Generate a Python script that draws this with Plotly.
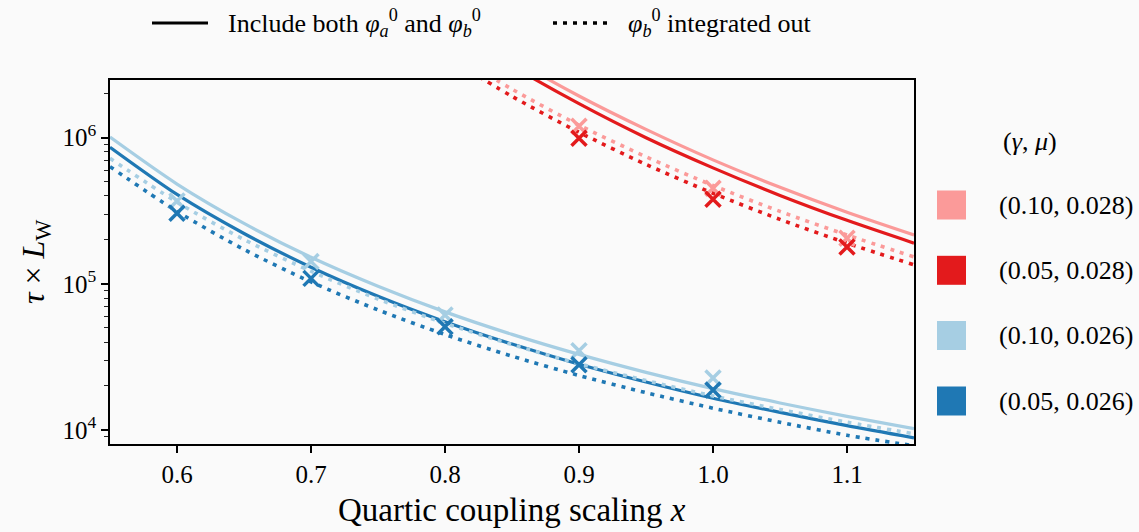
import plotly.graph_objects as go

# ---------------- data ----------------
x_blue = [0.55, 0.60, 0.65, 0.70, 0.75, 0.80, 0.85, 0.90, 0.95, 1.00, 1.05, 1.10, 1.15]
blue_dark_full = [8.60e5, 4.09e5, 2.21e5, 1.30e5, 8.22e4, 5.51e4, 3.87e4, 2.82e4, 2.13e4, 1.65e4, 1.32e4, 1.07e4, 8.83e3]
blue_light_full = [1.01e6, 4.82e5, 2.59e5, 1.52e5, 9.63e4, 6.43e4, 4.51e4, 3.29e4, 2.48e4, 1.92e4, 1.53e4, 1.24e4, 1.02e4]
blue_dark_int = [6.34e5, 3.13e5, 1.72e5, 1.03e5, 6.63e4, 4.50e4, 3.20e4, 2.36e4, 1.80e4, 1.41e4, 1.13e4, 9.20e3, 7.80e3]
blue_light_int = [7.23e5, 3.62e5, 2.01e5, 1.22e5, 7.87e4, 5.37e4, 3.84e4, 2.84e4, 2.18e4, 1.71e4, 1.38e4, 1.13e4, 9.42e3]

x_red = [0.80, 0.85, 0.90, 0.95, 1.00, 1.05, 1.10, 1.15]
red_dark_full = [6.05e6, 3.10e6, 1.71e6, 1.00e6, 6.22e5, 4.03e5, 2.72e5, 1.90e5]
red_light_full = [6.79e6, 3.49e6, 1.93e6, 1.14e6, 7.05e5, 4.58e5, 3.09e5, 2.16e5]
red_dark_int = [3.63e6, 1.92e6, 1.09e6, 6.57e5, 4.17e5, 2.76e5, 1.90e5, 1.35e5]
red_light_int = [4.05e6, 2.15e6, 1.22e6, 7.41e5, 4.71e5, 3.13e5, 2.16e5, 1.53e5]

x_blue_pts = [0.6, 0.7, 0.8, 0.9, 1.0]
blue_light_pts = [3.69e5, 1.42e5, 6.12e4, 3.48e4, 2.27e4]
blue_dark_pts = [3.04e5, 1.09e5, 5.09e4, 2.79e4, 1.88e4]
x_red_pts = [0.9, 1.0, 1.1]
red_light_pts = [1.20e6, 4.51e5, 2.05e5]
red_dark_pts = [9.9e5, 3.79e5, 1.79e5]

legend_labels = ["(0.10, 0.028)", "(0.05, 0.028)", "(0.10, 0.026)", "(0.05, 0.026)"]
x_ticks = [0.6, 0.7, 0.8, 0.9, 1.0, 1.1]
y_ticks = [1e4, 1e5, 1e6]
y_ticktext = ["10<sup>4</sup>", "10<sup>5</sup>", "10<sup>6</sup>"]

# ---------------- styling ----------------
C_LR, C_R, C_LB, C_B = "#fb9a99", "#e31a1c", "#a6cee3", "#1f78b4"
FONT = "Liberation Serif, DejaVu Serif, serif"
BG = "#fafafa"
W, H = 1139, 532
L, R, T, B = 110, 914, 80, 444

def px(x):
    return (x - L) / (R - L)

def py(y):
    return (B - y) / (B - T)

DOT = "4px,6px"
fig = go.Figure()

def line(x, y, color, dash):
    fig.add_trace(go.Scatter(x=x, y=y, mode="lines", showlegend=False,
                             line=dict(color=color, width=3.2 if dash == "solid" else 3.6,
                                       dash=dash, shape="spline", smoothing=0.8),
                             hoverinfo="skip"))

line(x_blue, blue_light_full, C_LB, "solid")
line(x_blue, blue_dark_full, C_B, "solid")
line(x_blue, blue_light_int, C_LB, DOT)
line(x_blue, blue_dark_int, C_B, DOT)
line(x_red, red_light_full, C_LR, "solid")
line(x_red, red_dark_full, C_R, "solid")
line(x_red, red_light_int, C_LR, DOT)
line(x_red, red_dark_int, C_R, DOT)

def pts(x, y, color):
    fig.add_trace(go.Scatter(x=x, y=y, mode="markers", showlegend=False,
                             marker=dict(symbol="x-thin", size=15,
                                         line=dict(color=color, width=3.5)),
                             hoverinfo="skip"))

pts(x_blue_pts, blue_light_pts, C_LB)
pts(x_blue_pts, blue_dark_pts, C_B)
pts(x_red_pts, red_light_pts, C_LR)
pts(x_red_pts, red_dark_pts, C_R)

shapes = []
annotations = []
TXT = dict(family=FONT, size=26, color="black")

# top legend
ly = 23
shapes.append(dict(type="line", xref="paper", yref="paper", x0=px(152), x1=px(208),
                   y0=py(ly), y1=py(ly), line=dict(color="black", width=3)))
shapes.append(dict(type="line", xref="paper", yref="paper", x0=px(553), x1=px(608),
                   y0=py(ly), y1=py(ly), line=dict(color="black", width=3.6, dash=DOT)))
annotations.append(dict(xref="paper", yref="paper", x=px(226), y=py(ly), xanchor="left",
                        yanchor="middle", showarrow=False,
                        text="Include both <i>φ</i><sub><i>a</i></sub><sup>0</sup> and <i>φ</i><sub><i>b</i></sub><sup>0</sup>",
                        font=TXT))
annotations.append(dict(xref="paper", yref="paper", x=px(626), y=py(ly), xanchor="left",
                        yanchor="middle", showarrow=False,
                        text="<i>φ</i><sub><i>b</i></sub><sup>0</sup> integrated out",
                        font=TXT))

# right legend
annotations.append(dict(xref="paper", yref="paper", x=px(1030), y=py(142), xanchor="center",
                        yanchor="middle", showarrow=False, text="(<i>γ</i>, <i>μ</i>)",
                        font=TXT))
sq_centers = [205, 270.3, 335.5, 401]
sq_colors = [C_LR, C_R, C_LB, C_B]
for cy, col, lab in zip(sq_centers, sq_colors, legend_labels):
    shapes.append(dict(type="rect", xref="paper", yref="paper", x0=px(937), x1=px(966),
                       y0=py(cy + 14.5), y1=py(cy - 14.5), fillcolor=col, line=dict(width=0)))
    annotations.append(dict(xref="paper", yref="paper", x=px(997), y=py(cy), xanchor="left",
                            yanchor="middle", showarrow=False, text=lab, font=TXT))

# axis titles
annotations.append(dict(xref="paper", yref="paper", x=0.5, y=py(510), xanchor="center",
                        yanchor="middle", showarrow=False,
                        text="Quartic coupling scaling <i>x</i>",
                        font=dict(family=FONT, size=33, color="black")))
annotations.append(dict(xref="paper", yref="paper", x=px(35), y=py(262), xanchor="center",
                        yanchor="middle", showarrow=False, textangle=-90,
                        text="<i>τ</i> × <i>L</i><sub>W</sub>",
                        font=dict(family=FONT, size=32, color="black")))

minor_vals = [m * 10 ** e for e in (3, 4, 5, 6) for m in range(2, 10)]
TICKFONT = dict(family=FONT, size=25, color="black")

fig.update_layout(
    width=W, height=H,
    font=dict(family=FONT, color="black"),
    margin=dict(l=L, r=W - R, t=T, b=H - B, pad=0),
    paper_bgcolor=BG, plot_bgcolor=BG,
    showlegend=False,
    shapes=shapes, annotations=annotations,
    xaxis=dict(range=[0.55, 1.15], tickvals=x_ticks, ticktext=[f"{v:.1f}" for v in x_ticks],
               ticks="outside", ticklen=7, tickwidth=1.5, tickcolor="black",
               showline=True, linecolor="black", linewidth=1.6, mirror=True,
               showgrid=False, zeroline=False, tickfont=TICKFONT),
    yaxis=dict(type="log", range=[3.904, 6.395], tickvals=y_ticks, ticktext=y_ticktext,
               ticks="outside", ticklen=7, tickwidth=1.5, tickcolor="black",
               minor=dict(tickvals=minor_vals, ticks="outside", ticklen=4, tickwidth=1.2,
                          tickcolor="#222", showgrid=False),
               showline=True, linecolor="black", linewidth=1.6, mirror=True,
               showgrid=False, zeroline=False, tickfont=TICKFONT),
)

fig.write_html("out.html")
